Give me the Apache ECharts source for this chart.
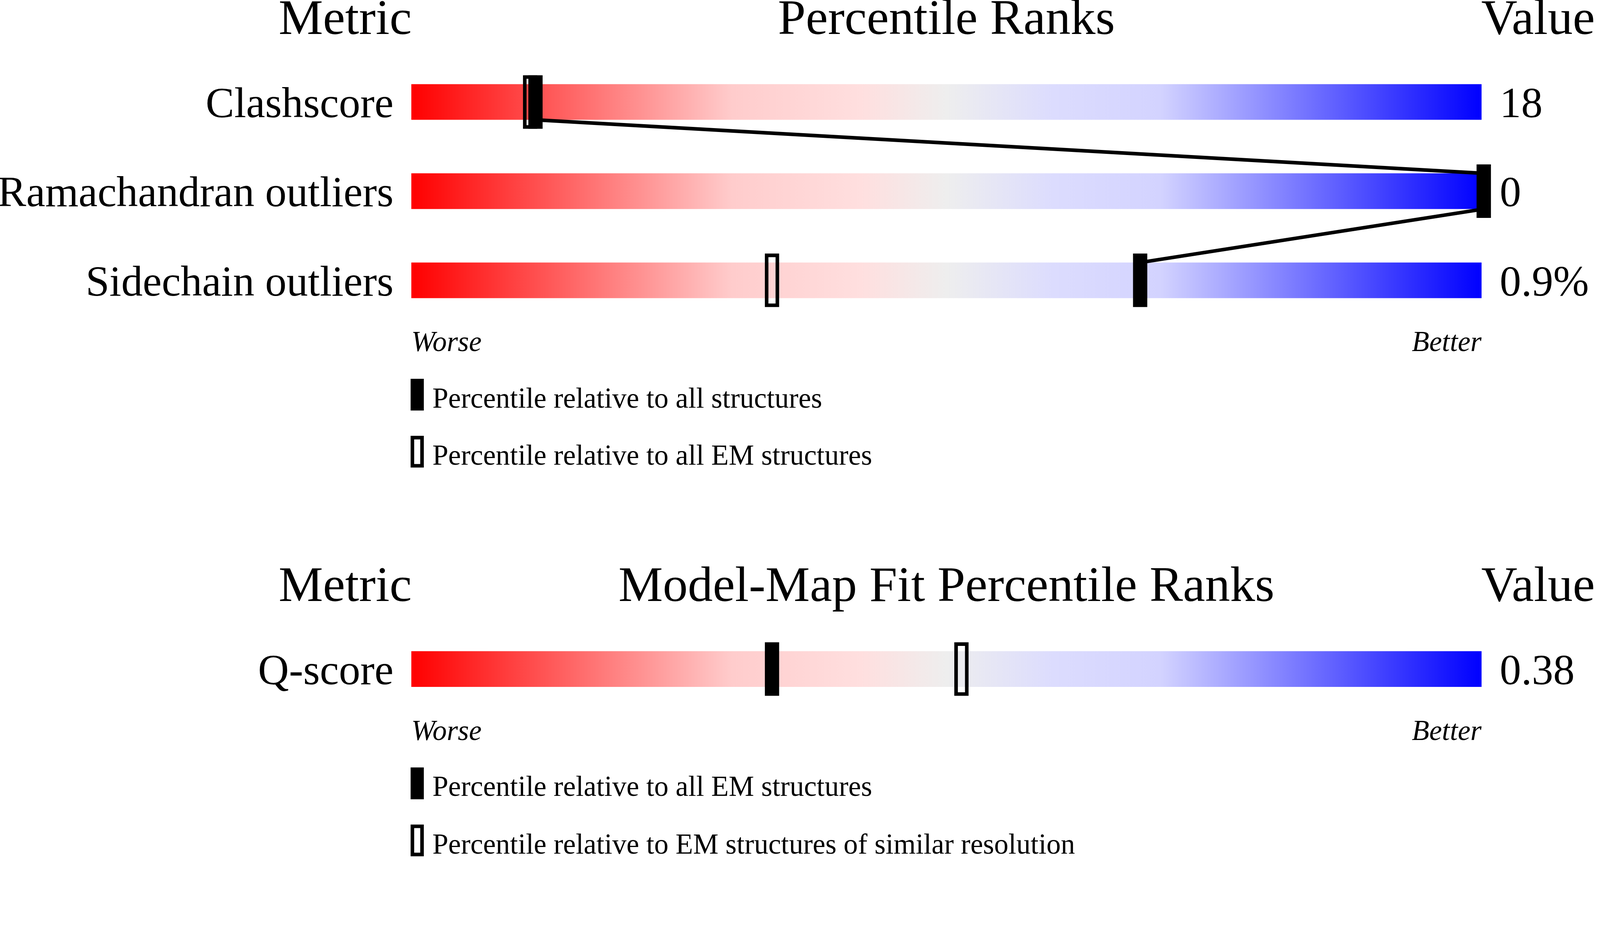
<!DOCTYPE html>
<html><head><meta charset="utf-8">
<script src="https://cdn.jsdelivr.net/npm/echarts@6/dist/echarts.min.js"></script>
<style>html,body{margin:0;padding:0;background:#fff;overflow:hidden}#c{width:100vw;height:100vh}</style>
</head><body><div id="c"></div>
<script>
// ---------- data ----------
const metrics1 = ['Clashscore', 'Ramachandran outliers', 'Sidechain outliers'];
const values1 = ['18', '0', '0.9%'];
const pctAll1 = [11.6, 100.2, 68.1];      // percentile relative to all structures (filled)
const pctEM1 = [11.1, 100.2, 33.7];       // percentile relative to all EM structures (open)
const metrics2 = ['Q-score'];
const values2 = ['0.38'];
const pctAllEM2 = [33.7];                 // relative to all EM structures (filled)
const pctSimRes2 = [51.4];                // relative to EM structures of similar resolution (open)
const headers1 = ['Metric', 'Percentile Ranks', 'Value'];
const headers2 = ['Metric', 'Model-Map Fit Percentile Ranks', 'Value'];
const scaleEnds = ['Worse', 'Better'];
const legend1 = ['Percentile relative to all structures', 'Percentile relative to all EM structures'];
const legend2 = ['Percentile relative to all EM structures', 'Percentile relative to EM structures of similar resolution'];

// ---------- style / layout (designed for a 4485 x 2402 canvas, scaled to the viewport) ----------
const dom = document.getElementById('c');
const S = (dom.clientWidth || window.innerWidth) / 4485;
const P = v => v * S;
const FONT = '"Liberation Serif", "Times New Roman", serif';
const GL = 1153, GW = 3000;
const BAR_H = 100, MK_W = 40, MK_H = 150, STROKE = 10;

const chart = echarts.init(dom, null, {renderer: 'canvas'});

const gradient = new echarts.graphic.LinearGradient(0, 0, 1, 0, [
  {offset: 0, color: '#ff0000'},
  {offset: 0.3, color: '#ffcccc'},
  {offset: 0.42, color: '#ffdfdf'},
  {offset: 0.5, color: '#eeeeee'},
  {offset: 0.6, color: '#dcdcfe'},
  {offset: 0.7, color: '#d3d3ff'},
  {offset: 1, color: '#0000ff'}
]);

function filledItem(params, api) {
  const c = api.coord([api.value(0), api.value(1)]);
  return {type: 'rect', shape: {x: c[0] - P(MK_W) / 2, y: c[1] - P(MK_H) / 2, width: P(MK_W), height: P(MK_H)},
    style: {fill: '#000'}};
}
function openItem(params, api) {
  const c = api.coord([api.value(0), api.value(1)]);
  return {type: 'rect', shape: {x: c[0] - P(MK_W) / 2 + P(STROKE) / 2, y: c[1] - P(MK_H) / 2 + P(STROKE) / 2,
    width: P(MK_W - STROKE), height: P(MK_H - STROKE)},
    style: {fill: 'none', stroke: '#000', lineWidth: P(STROKE)}};
}
function linkFactory(arr) {
  return function (params, api) {
    const i = params.dataIndex;
    if (i >= arr.length - 1) return {type: 'group', children: []};
    const a = api.coord([arr[i], i]);
    const b = api.coord([arr[i + 1], i + 1]);
    return {type: 'line', shape: {x1: a[0], y1: a[1] + P(BAR_H) / 2, x2: b[0], y2: b[1] - P(BAR_H) / 2},
      style: {stroke: '#000', lineWidth: P(STROKE)}};
  };
}
const pts = arr => arr.map((p, i) => [p, i]);

function xAxisFor(gi, margin) {
  return {
    type: 'value', gridIndex: gi, min: 0, max: 100, interval: 100,
    axisLine: {show: false}, axisTick: {show: false}, splitLine: {show: false},
    axisLabel: {
      show: true, margin: P(margin), fontFamily: FONT, fontSize: P(80), fontStyle: 'italic', color: '#000',
      showMinLabel: true, showMaxLabel: true,
      alignMinLabel: 'left', alignMaxLabel: 'right',
      formatter: v => v === 0 ? scaleEnds[0] : (v === 100 ? scaleEnds[1] : '')
    }
  };
}
function yAxisFor(gi, data, pos) {
  return {
    type: 'category', gridIndex: gi, data: data, inverse: true, position: pos,
    axisLine: {show: false}, axisTick: {show: false}, splitLine: {show: false},
    axisLabel: {fontFamily: FONT, fontSize: P(120), color: '#000', margin: P(pos === 'left' ? 50 : 51),
      verticalAlign: 'top', lineHeight: P(22)}
  };
}

function txt(x, y, text, size, align) {
  return {type: 'text', x: P(x), y: P(y), silent: true,
    style: {text: text, fontSize: P(size), fontFamily: FONT, fill: '#000', align: align, verticalAlign: 'middle'}};
}
function legendIcon(x, y, filled) {
  if (filled) return {type: 'rect', silent: true, shape: {x: P(x), y: P(y), width: P(37), height: P(89)}, style: {fill: '#000'}};
  return {type: 'rect', silent: true,
    shape: {x: P(x + STROKE / 2), y: P(y + STROKE / 2), width: P(37 - STROKE), height: P(89 - STROKE)},
    style: {fill: 'none', stroke: '#000', lineWidth: P(STROKE)}};
}

const graphics = [
  txt(1154, 59, headers1[0], 140, 'right'),
  txt(GL + GW / 2, 59, headers1[1], 140, 'center'),
  txt(4152, 59, headers1[2], 140, 'left'),
  txt(1154, 1648, headers2[0], 140, 'right'),
  txt(GL + GW / 2, 1648, headers2[1], 140, 'center'),
  txt(4152, 1648, headers2[2], 140, 'left'),
  legendIcon(1151, 1062, true), txt(1212, 1122, legend1[0], 80, 'left'),
  legendIcon(1151, 1222, false), txt(1212, 1282, legend1[1], 80, 'left'),
  legendIcon(1151, 2152, true), txt(1212, 2211, legend2[0], 80, 'left'),
  legendIcon(1151, 2312, false), txt(1212, 2373, legend2[1], 80, 'left')
];

const option = {
  animation: false,
  backgroundColor: '#fff',
  textStyle: {fontFamily: FONT},
  grid: [
    {left: P(GL), width: P(GW), top: P(161), height: P(750), outerBoundsMode: 'none', containLabel: false},
    {left: P(GL), width: P(GW), top: P(1751), height: P(250), outerBoundsMode: 'none', containLabel: false}
  ],
  xAxis: [xAxisFor(0, 12), xAxisFor(1, 13)],
  yAxis: [
    yAxisFor(0, metrics1, 'left'), yAxisFor(0, values1, 'right'),
    yAxisFor(1, metrics2, 'left'), yAxisFor(1, values2, 'right')
  ],
  graphic: graphics,
  series: [
    {type: 'bar', xAxisIndex: 0, yAxisIndex: 0, data: metrics1.map(() => 100), barWidth: P(BAR_H),
      itemStyle: {color: gradient}, silent: true, z: 1},
    {type: 'custom', xAxisIndex: 0, yAxisIndex: 0, data: pts(pctAll1), renderItem: linkFactory(pctAll1), z: 2, silent: true},
    {type: 'custom', name: legend1[1], xAxisIndex: 0, yAxisIndex: 0, data: pts(pctEM1), renderItem: openItem, z: 3, silent: true},
    {type: 'custom', name: legend1[0], xAxisIndex: 0, yAxisIndex: 0, data: pts(pctAll1), renderItem: filledItem, z: 4, silent: true},

    {type: 'bar', xAxisIndex: 1, yAxisIndex: 2, data: metrics2.map(() => 100), barWidth: P(BAR_H),
      itemStyle: {color: gradient}, silent: true, z: 1},
    {type: 'custom', xAxisIndex: 1, yAxisIndex: 2, data: pts(pctSimRes2), renderItem: openItem, z: 3, silent: true},
    {type: 'custom', xAxisIndex: 1, yAxisIndex: 2, data: pts(pctAllEM2), renderItem: filledItem, z: 4, silent: true}
  ]
};
chart.setOption(option);
</script>
</body></html>
